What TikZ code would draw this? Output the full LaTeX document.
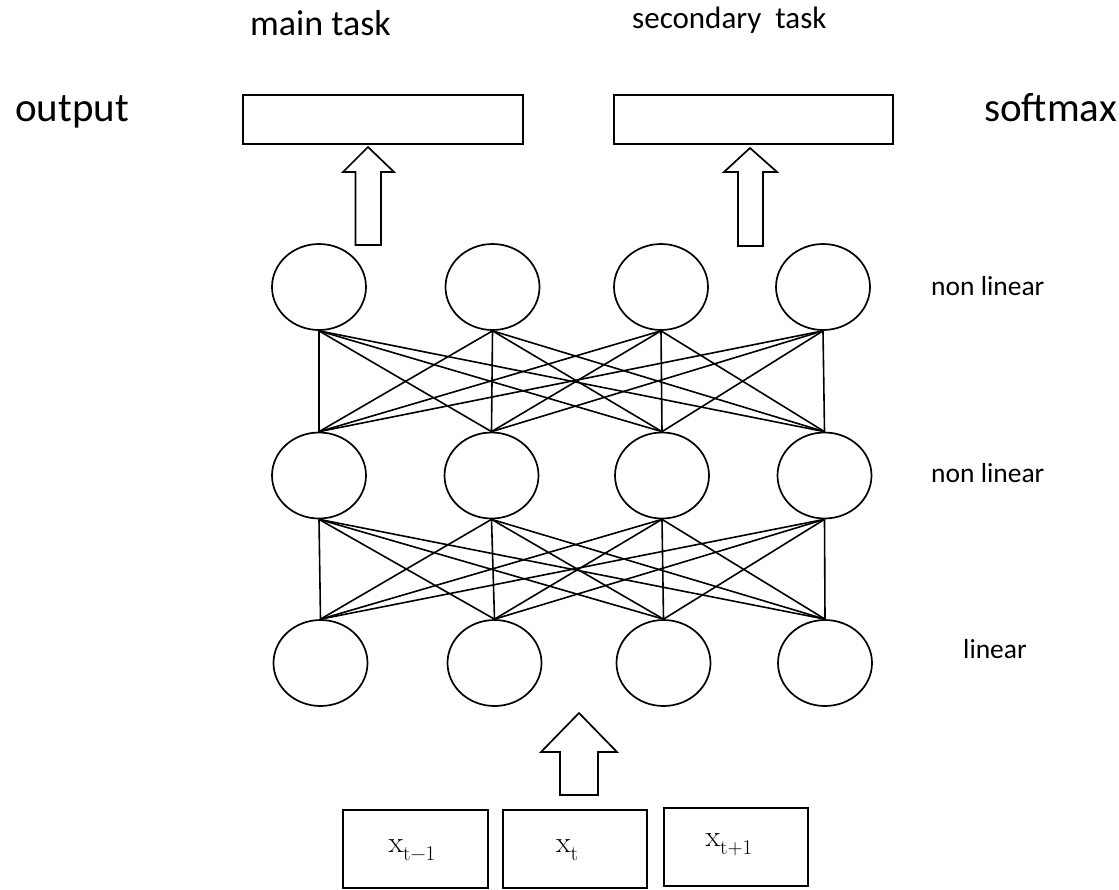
\documentclass[tikz,border=0pt]{standalone}
\usepackage{fontspec}
\setmainfont{Carlito}
\newfontfamily\lmr{Latin Modern Roman}
\usetikzlibrary{shapes.geometric}
\newcommand{\inlab}[2]{{\lmr #1\raisebox{-0.28em}{\fontsize{21}{25}\selectfont #2}}}
\begin{document}
\begin{tikzpicture}[x=1pt,y=-1pt,
  neuron/.style={draw, ellipse, line width=1.7pt, minimum width=94pt, minimum height=86pt, inner sep=0pt},
  taskbox/.style={draw, rectangle, line width=1.7pt, minimum width=280pt, minimum height=49pt, inner sep=0pt},
  inbox/.style={draw, rectangle, line width=1.7pt, minimum width=145pt, minimum height=78pt, inner sep=0pt},
  link/.style={line width=1.6pt},
  blockarrow/.style={draw, line width=1.7pt, fill=white, line join=miter},
  bigtext/.style={font=\fontsize{41}{48}\selectfont, inner sep=0pt},
  sidetext/.style={font=\fontsize{27.5}{32}\selectfont, inner sep=0pt},
  intext/.style={font=\fontsize{30}{36}\selectfont, inner sep=0pt}]
\useasboundingbox (0,0) rectangle (1119,889);

% titles
\node[inner sep=0pt, anchor=base west, font=\fontsize{36}{42}\selectfont] (maintask) at (250,35) {main task};
\node[inner sep=0pt, anchor=base west, font=\fontsize{31}{36}\selectfont] (sectask) at (632,28) {secondary~ task};
\node[bigtext, anchor=base west] (output) at (15,121) {output};
\node[bigtext, anchor=base east] (softmax) at (1117,121) {softmax};

% output boxes
\node[taskbox] (box1) at (383,119.5) {};
\node[taskbox, minimum width=279pt] (box2) at (753.5,119.5) {};

% block arrows to outputs
\draw[blockarrow] (355.5,245) -- (355.5,172) -- (343,172) -- (368,147) -- (394,172) -- (381,172) -- (381,245) -- cycle;
\draw[blockarrow] (738,246) -- (738,172) -- (724,172) -- (750,148) -- (777,172) -- (763,172) -- (763,246) -- cycle;

% neurons
\node[neuron] (t1) at (319,287) {};
\node[neuron] (t2) at (492.5,287) {};
\node[neuron] (t3) at (661,287) {};
\node[neuron] (t4) at (823,287) {};
\node[neuron] (m1) at (319,475.5) {};
\node[neuron] (m2) at (491.5,475.5) {};
\node[neuron] (m3) at (662,475.5) {};
\node[neuron] (m4) at (824.5,475.5) {};
\node[neuron] (b1) at (320.5,663) {};
\node[neuron] (b2) at (494.5,663) {};
\node[neuron] (b3) at (663.5,663) {};
\node[neuron] (b4) at (825,663) {};

% connections
\foreach \i in {1,...,4}{
  \foreach \j in {1,...,4}{
    \draw[link] (t\i.south) -- (m\j.north);
    \draw[link] (m\i.south) -- (b\j.north);
  }
}

% layer labels
\node[sidetext, anchor=base west] (l1) at (931,295) {non linear};
\node[sidetext, anchor=base west] (l2) at (931,482) {non linear};
\node[sidetext, anchor=base west] (l3) at (963,658) {linear};

% input arrow
\draw[blockarrow] (560,795) -- (560,752) -- (541,752) -- (579,713) -- (617,752) -- (598,752) -- (598,795) -- cycle;

% input boxes
\node[inbox] (xa) at (415.5,849) {};
\node[inbox, minimum width=144pt] (xb) at (575,849) {};
\node[inbox, minimum width=144pt] (xc) at (736,847) {};
\node[intext] (xal) at (412,850) {\inlab{x}{t−1}};
\node[intext] (xbl) at (567,850) {\inlab{x}{t}};
\node[intext] (xcl) at (729,845) {\inlab{x}{t+1}};
\end{tikzpicture}
\end{document}
